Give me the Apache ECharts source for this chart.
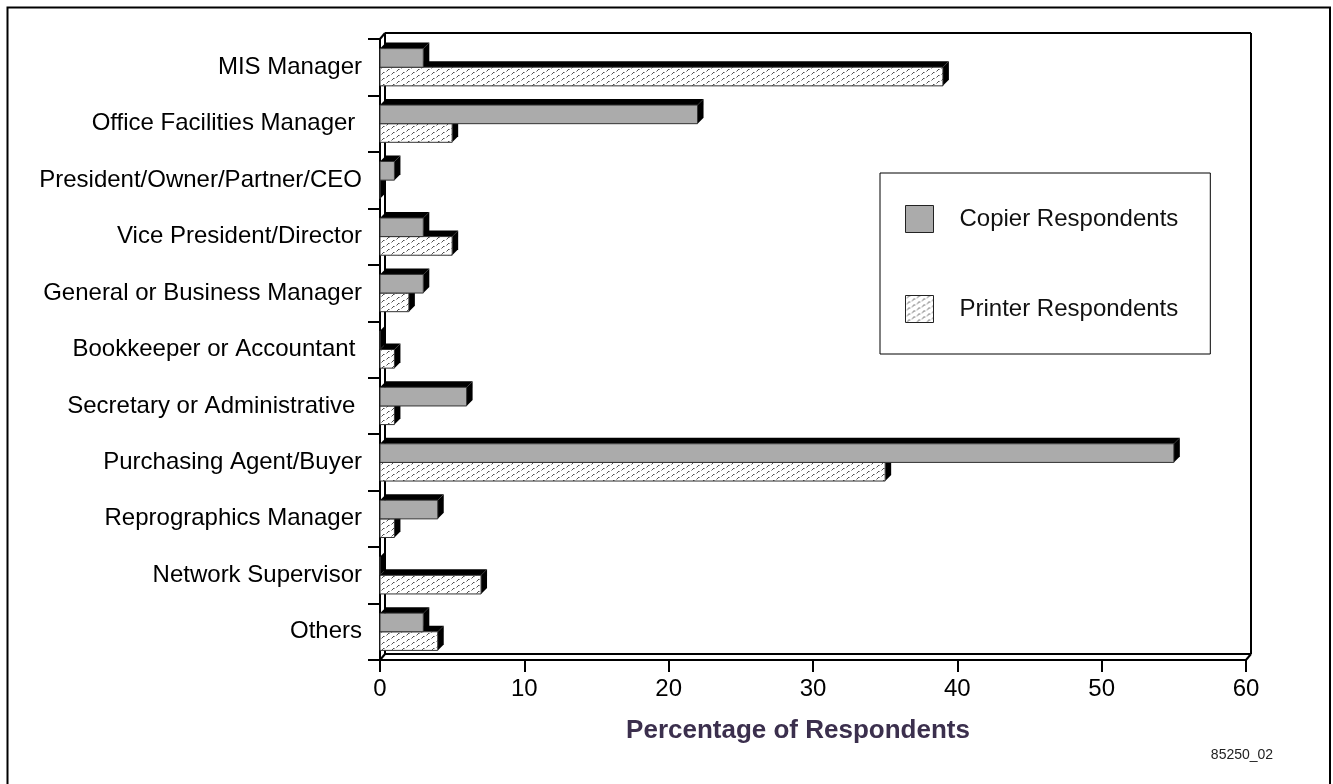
<!DOCTYPE html>
<html>
<head>
<meta charset="utf-8">
<title>Respondent Job Titles</title>
<script src="https://cdn.jsdelivr.net/npm/echarts@6/dist/echarts.min.js"></script>
<style>
  html, body { margin: 0; padding: 0; background: #fff; }
  #chart { width: 1333px; height: 784px; }
</style>
</head>
<body>
<div id="chart"></div>
<script>
// Job titles of survey respondents, top to bottom
const categories = [
  'MIS Manager',
  'Office Facilities Manager ',
  'President/Owner/Partner/CEO',
  'Vice President/Director',
  'General or Business Manager',
  'Bookkeeper or Accountant ',
  'Secretary or Administrative ',
  'Purchasing Agent/Buyer',
  'Reprographics Manager',
  'Network Supervisor',
  'Others'
];
// Percentage of respondents per title
const copierPct  = [3, 22, 1, 3, 3, 0, 6, 55, 4, 0, 3];
const printerPct = [39, 5, 0, 5, 2, 1, 1, 35, 1, 7, 4];
const seriesNames = ['Copier Respondents', 'Printer Respondents'];
const axisTitle = 'Percentage of Respondents';
const figureId = '85250_02';

// Layout of the plot box (front face) and the 3-D depths
const G = { left: 380, top: 39, width: 866, height: 621 };
const WALL = 5;      // depth of the back wall / floor
const DEPTH = 6;     // depth of each bar
const BAR_FRAC = 0.33;
const FONT = 'Liberation Sans, Arial, Helvetica, sans-serif';

// Dotted slanted-dash texture used on the printer bars
function makeHatch() {
  const c = document.createElement('canvas');
  c.width = 10; c.height = 6;
  const g = c.getContext('2d');
  g.fillStyle = '#ffffff';
  g.fillRect(0, 0, 10, 6);
  g.fillStyle = '#505050';
  g.fillRect(3, 0, 1, 1);
  g.fillRect(2, 1, 1, 1);
  g.fillRect(8, 3, 1, 1);
  g.fillRect(7, 4, 1, 1);
  g.fillStyle = '#a8a8a8';
  g.fillRect(4, 0, 1, 1);
  g.fillRect(9, 3, 1, 1);
  g.fillRect(1, 2, 1, 1);
  g.fillRect(6, 5, 1, 1);
  return c;
}
const hatch = { image: makeHatch(), repeat: 'repeat' };
const copierFill = '#ababab';
const edge = '#333333';

// 3-D bar: black top and side faces behind a flat front face
function bar3d(fill, upper) {
  return function (params, api) {
    const idx = api.value(0);
    const val = api.value(1);
    const start = api.coord([0, idx]);
    const end = api.coord([val, idx]);
    const band = api.size([0, 1])[1];
    const h = band * BAR_FRAC;
    const x0 = start[0], x1 = end[0];
    const top = upper ? start[1] - h : start[1];
    const bot = top + h;
    const d = DEPTH;
    return {
      type: 'group',
      children: [
        {
          type: 'polygon',
          shape: { points: [[x0, top], [x0 + d, top - d], [x1 + d, top - d], [x1, top]] },
          style: { fill: '#000' }
        },
        {
          type: 'polygon',
          shape: { points: [[x1, top], [x1 + d, top - d], [x1 + d, bot - d], [x1, bot]] },
          style: { fill: '#000' }
        },
        {
          type: 'rect',
          shape: { x: x0, y: top, width: x1 - x0, height: h },
          style: { fill: fill, stroke: edge, lineWidth: 1 }
        }
      ]
    };
  };
}

function pairs(vals) {
  return vals.map(function (v, i) { return [i, v]; });
}

// Frame, back wall and floor lines
const L = G.left, T = G.top, R = G.left + G.width, B = G.top + G.height;
const line = function (x1, y1, x2, y2) {
  return { type: 'line', z: 1, shape: { x1: x1, y1: y1, x2: x2, y2: y2 },
           style: { stroke: '#000', lineWidth: 2 } };
};
const graphics = [
  { type: 'rect', z: 0, shape: { x: 7.5, y: 7.5, width: 1322.5, height: 800 },
    style: { fill: 'none', stroke: '#000', lineWidth: 2 } },
  line(L + WALL, T - WALL - 1, R + WALL, T - WALL - 1),
  line(R + WALL, T - WALL - 1, R + WALL, B - WALL - 1),
  line(L + WALL, T - WALL - 1, L + WALL, B - WALL - 1),
  line(L + WALL, B - WALL - 1, R + WALL, B - WALL - 1),
  line(L, T, L + WALL, T - WALL - 1),
  line(L, B, L + WALL, B - WALL - 1),
  line(R, B, R + WALL, B - WALL - 1),
  { type: 'text', z: 5, style: { text: figureId, x: 1242, y: 755, align: 'center',
    verticalAlign: 'middle', font: '14px ' + FONT, fill: '#222' } }
];

const chart = echarts.init(document.getElementById('chart'), null, { renderer: 'canvas' });
chart.setOption({
  animation: false,
  backgroundColor: '#fff',
  textStyle: { fontFamily: FONT },
  grid: { left: G.left, top: G.top, width: G.width, height: G.height, containLabel: false },
  legend: {
    left: 880, top: 173,
    orient: 'vertical',
    padding: [32, 32, 31, 25],
    borderColor: '#000', borderWidth: 1,
    backgroundColor: '#fff',
    itemWidth: 28, itemHeight: 27, itemGap: 62,
    selectedMode: false,
    textStyle: { fontSize: 24, color: '#111', fontFamily: FONT, padding: [0, 0, 0, 21] },
    data: [
      { name: seriesNames[0], icon: 'rect', itemStyle: { color: copierFill, borderColor: '#222', borderWidth: 1 } },
      { name: seriesNames[1], icon: 'rect', itemStyle: { color: hatch, borderColor: '#222', borderWidth: 1 } }
    ]
  },
  xAxis: {
    type: 'value', min: 0, max: 60, interval: 10,
    name: axisTitle, nameLocation: 'middle', nameGap: 58,
    nameTextStyle: { fontSize: 26, fontWeight: 'bold', color: '#3b2f4d', fontFamily: FONT,
                     padding: [0, 30, 0, 0] },
    axisLine: { show: true, lineStyle: { color: '#000', width: 2 } },
    axisTick: { show: true, length: 12, lineStyle: { color: '#000', width: 2 } },
    axisLabel: { fontSize: 24, color: '#000', margin: 17, fontFamily: FONT },
    splitLine: { show: false }
  },
  yAxis: {
    type: 'category', data: categories, inverse: true,
    axisLine: { show: true, lineStyle: { color: '#000', width: 2 } },
    axisTick: { show: true, length: 12, lineStyle: { color: '#000', width: 2 } },
    axisLabel: { fontSize: 24, color: '#000', margin: 18, fontFamily: FONT },
    splitLine: { show: false }
  },
  graphic: graphics,
  series: [
    {
      name: seriesNames[1], type: 'custom', z: 2,
      itemStyle: { color: hatch, borderColor: edge },
      renderItem: bar3d(hatch, false),
      encode: { x: 1, y: 0 },
      data: pairs(printerPct)
    },
    {
      name: seriesNames[0], type: 'custom', z: 3,
      itemStyle: { color: copierFill, borderColor: edge },
      renderItem: bar3d(copierFill, true),
      encode: { x: 1, y: 0 },
      data: pairs(copierPct)
    }
  ]
});
</script>
</body>
</html>
